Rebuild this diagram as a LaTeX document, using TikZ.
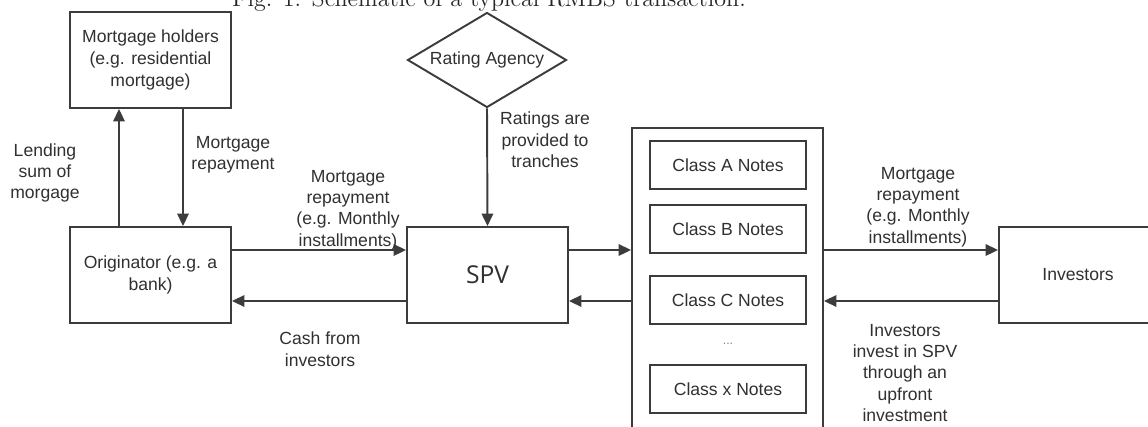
\documentclass[tikz,border=0pt]{standalone}
\usepackage{fontspec}
\newfontfamily\labelfont{Liberation Sans}
\newfontfamily\spvfont{Open Sans}
\usepackage{tikz}
\usetikzlibrary{shapes.geometric}
\usetikzlibrary{arrows.meta}
\definecolor{linegray}{HTML}{3C3C3C}
\definecolor{textgray}{HTML}{303030}

\begin{document}
\begin{tikzpicture}[x=0.02cm,y=-0.02cm,
    party/.style={draw=linegray,line width=1.1pt,fill=white,minimum width=3.22cm,minimum height=1.92cm,inner sep=0pt,align=center,font=\labelfont\fontsize{10}{12.4}\selectfont,text=textgray},
    note/.style={draw=linegray,line width=1.1pt,fill=white,minimum width=3.12cm,minimum height=0.96cm,inner sep=0pt,font=\labelfont\fontsize{10}{12}\selectfont,text=textgray},
    flow/.style={draw=linegray,line width=1.1pt,-{Triangle[length=2.5mm,width=2.3mm]}},
    lbl/.style={align=center,inner sep=0pt,font=\labelfont\fontsize{10}{12.2}\selectfont,text=textgray}]
    \clip (0,0) rectangle (1148,426);
    \node[anchor=base,text=black!85,inner sep=0pt,font=\fontsize{13.7}{16}\selectfont] (title) at (489,7) {Fig. 1: Schematic of a typical RMBS transaction.};
    %
    \node[party] (holders) at (150.5,60) {Mortgage holders\\(e.g. residential\\mortgage)};
    \node[party] (orig) at (150.5,275) {Originator (e.g. a\\bank)};
    \node[party,font=\spvfont\fontsize{14}{16}\selectfont] (spv) at (487.5,275) {SPV};
    \node[diamond,aspect=1.67,draw=linegray,line width=1.1pt,inner sep=0pt,minimum width=3.18cm,minimum height=1.9cm,font=\labelfont\fontsize{10}{12}\selectfont,text=textgray] (rating) at (487,60) {Rating Agency};
    \node[draw=linegray,line width=1.1pt,minimum width=3.82cm,minimum height=6.24cm,inner sep=0pt] (pool) at (727.5,284) {};
    \node[note] (classA) at (728,165) {Class A Notes};
    \node[note] (classB) at (728,229) {Class B Notes};
    \node[note] (classC) at (728,300) {Class C Notes};
    \node[inner sep=0pt,text=gray,font=\labelfont\fontsize{7}{8}\selectfont] (dots) at (728,344) {...};
    \node[note] (classX) at (728,389) {Class x Notes};
    \node[party,minimum width=3.16cm] (inv) at (1078,275) {Investors};
    %
    \draw[flow] ([xshift=-0.63cm]orig.north) -- ([xshift=-0.63cm]holders.south);
    \draw[flow] ([xshift=0.65cm]holders.south) -- ([xshift=0.65cm]orig.north);
    \draw[flow] (rating.south) -- (spv.north);
    \draw[flow] ([yshift=0.5cm]orig.east) -- ([yshift=0.5cm]spv.west);
    \draw[flow] ([yshift=-0.52cm]spv.west) -- ([yshift=-0.52cm]orig.east);
    \draw[flow] ([yshift=0.5cm]spv.east) -- ([yshift=0.5cm]spv.east -| pool.west);
    \draw[flow] ([yshift=-0.52cm]spv.east -| pool.west) -- ([yshift=-0.52cm]spv.east);
    \draw[flow] ([yshift=0.5cm]inv.west -| pool.east) -- ([yshift=0.5cm]inv.west);
    \draw[flow] ([yshift=-0.52cm]inv.west) -- ([yshift=-0.52cm]inv.west -| pool.east);
    %
    \node[lbl] (lendlbl) at (45,173) {Lending\\sum of\\morgage};
    \node[lbl] (repaylbl) at (233,155) {Mortgage\\repayment};
    \node[lbl] (monthlylbl) at (348,210) {Mortgage\\repayment\\(e.g. Monthly\\installments)};
    \node[lbl] (cashlbl) at (320,349) {Cash from\\investors};
    \node[lbl] (ratedlbl) at (545,140) {Ratings are\\provided to\\tranches};
    \node[lbl] (outlbl) at (918,207) {Mortgage\\repayment\\(e.g. Monthly\\installments)};
    \node[lbl] (investlbl) at (905,373) {Investors\\invest in SPV\\through an\\upfront\\investment};
\end{tikzpicture}
\end{document}
